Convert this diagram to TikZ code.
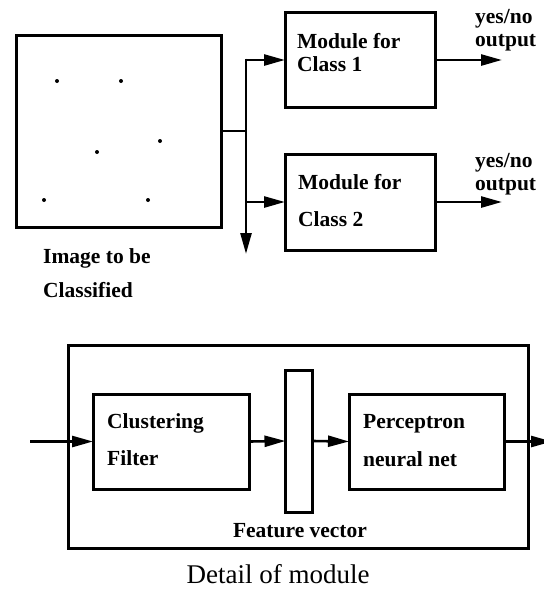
\documentclass[tikz,border=0pt]{standalone}
\usepackage{fontspec}
\setmainfont{Liberation Serif}
\usetikzlibrary{arrows.meta}
\begin{document}
\begin{tikzpicture}[x=1pt,y=-1pt,
  box/.style={draw,line width=3pt,anchor=north west,inner sep=0pt,outer sep=0pt},
  conn/.style={line width=2.6pt},
  arr/.style={conn,-{Triangle[length=21pt,width=11pt]}},
  lbl/.style={anchor=base west,inner sep=0pt,font=\fontsize{21.5}{25}\selectfont\bfseries},
  dot/.style={circle,fill,inner sep=0pt,minimum size=4pt}]
\useasboundingbox (0,0) rectangle (544,590);
% top part
\node[box,minimum width=205pt,minimum height=192pt] (img) at (16,35) {};
\node[box,minimum width=150pt,minimum height=95pt] (m1) at (285,12.5) {};
\node[box,minimum width=150pt,minimum height=96pt] (m2) at (285,154) {};
\node[dot] (d1) at (57,81) {};
\node[dot] (d2) at (121,81) {};
\node[dot] (d3) at (97,152) {};
\node[dot] (d4) at (160,141) {};
\node[dot] (d5) at (44,200) {};
\node[dot] (d6) at (148,200) {};
\coordinate (j) at (246,131);
\coordinate (b1) at (246,58.7);
\coordinate (b2) at (246,202);
\coordinate (bd) at (246,254);
\coordinate (o1) at (502,60);
\coordinate (o2) at (502,202);
\draw[conn] (img.east) -- (j);
\draw[arr] (b1) -- (bd);
\draw[arr] ([yshift=-1.3pt]b1) |- (m1.west);
\draw[arr] (b2) -- (m2.west);
\draw[arr] (m1.east) -- (o1);
\draw[arr] (m2.east) -- (o2);
\node[lbl] (t1) at (297,48) {Module for};
\node[lbl] (t2) at (297,71) {Class 1};
\node[lbl] (t3) at (298,189) {Module for};
\node[lbl] (t4) at (298,226) {Class 2};
\node[lbl] (y1) at (475,23) {yes/no};
\node[lbl] (y2) at (475,46) {output};
\node[lbl] (y3) at (475,167) {yes/no};
\node[lbl] (y4) at (475,190) {output};
\node[lbl] (c1) at (43,263) {Image to be};
\node[lbl] (c2) at (43,297) {Classified};
% bottom part
\node[box,minimum width=460pt,minimum height=203pt] (outer) at (68,345) {};
\node[box,minimum width=156pt,minimum height=95pt] (clus) at (93,394) {};
\node[box,minimum width=27pt,minimum height=142pt] (fv) at (285.5,370) {};
\node[box,minimum width=155pt,minimum height=95pt] (perc) at (349,394) {};
\coordinate (inp) at (30,441.5);
\coordinate (outp) at (552,441.5);
\draw[arr] (inp) -- (clus.west);
\draw[arr] (clus.east) -- (fv.west);
\draw[arr] (fv.east) -- (perc.west);
\draw[arr] (perc.east) -- (outp);
\node[lbl] (f1) at (107,428) {Clustering};
\node[lbl] (f2) at (107,465) {Filter};
\node[lbl] (p1) at (363,428) {Perceptron};
\node[lbl] (p2) at (363,466) {neural net};
\node[lbl,anchor=base] (fvl) at (300,537) {Feature vector};
\node[anchor=base,inner sep=0pt,font=\fontsize{27}{30}\selectfont] (det) at (278,583) {Detail of module};
\end{tikzpicture}
\end{document}
